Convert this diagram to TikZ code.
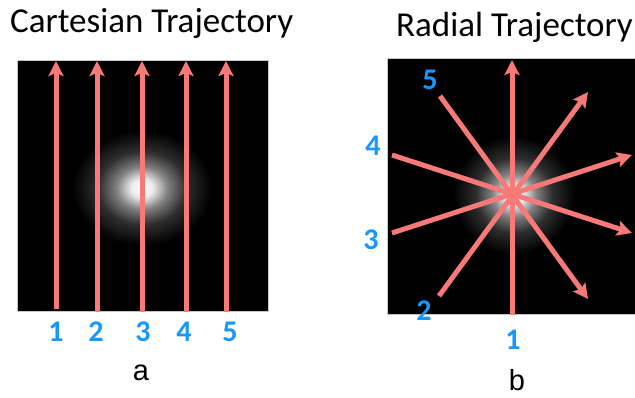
\documentclass[tikz,border=0pt]{standalone}
\usepackage{fontspec}
\setmainfont{Carlito}
\newfontfamily\arialfont{Liberation Sans}
\usepackage{xcolor}
\usetikzlibrary{arrows.meta,positioning}
\definecolor{trajred}{RGB}{248,122,120}
\definecolor{labelblue}{RGB}{22,152,255}
\pgfdeclareradialshading{signalblob}{\pgfpoint{0bp}{0bp}}{%
  color(0bp)=(white); color(3bp)=(white!92!black); color(7bp)=(white!50!black);
  color(12bp)=(white!18!black); color(19bp)=(black); color(50bp)=(black)}
\tikzset{
  kspace/.style={
    fill=black,
    draw=gray!45,
    line width=1pt
  },
  signal/.style={shading=signalblob},
  trajarrow/.style={-{Stealth[length=15pt, width=15pt, inset=3pt]}, line width=5pt, draw=trajred},
  numlabel/.style={font=\fontsize{30}{30}\selectfont\bfseries, text=labelblue, inner sep=0pt},
  titlelabel/.style={font=\fontsize{35}{35}\selectfont, anchor=base west, inner sep=0pt},
  sublabel/.style={font=\arialfont\fontsize{29}{29}\selectfont, anchor=base, inner sep=0pt}
}

\begin{document}
\begin{tikzpicture}[x=1pt, y=-1pt]
  \useasboundingbox (0,0) rectangle (635,398);

  % titles
  \node[titlelabel] (carttitle) at (10,33) {Cartesian Trajectory};
  \node[titlelabel] (radtitle) at (396,37) {Radial Trajectory};

  % k-space images
  \path[kspace] (17,61) rectangle (268,312);
  \shade[signal] (142,188) ellipse (92pt and 76pt);
  \draw[gray!45, line width=1pt] (17,61) rectangle (268,312);
  \path[kspace] (387,59) rectangle (645,315);
  \shade[signal] (514,195) ellipse (80pt and 78pt);

  % cartesian lines
  \coordinate (c1s) at (56,309);  \coordinate (c1e) at (56,61);
  \coordinate (c2s) at (97,312);  \coordinate (c2e) at (97,61);
  \coordinate (c3s) at (142,312); \coordinate (c3e) at (142,61);
  \coordinate (c4s) at (186,312); \coordinate (c4e) at (186,61);
  \coordinate (c5s) at (226,312); \coordinate (c5e) at (226,61);
  \draw[trajarrow] (c1s) -- (c1e);
  \draw[trajarrow] (c2s) -- (c2e);
  \draw[trajarrow] (c3s) -- (c3e);
  \draw[trajarrow] (c4s) -- (c4e);
  \draw[trajarrow] (c5s) -- (c5e);

  \node[numlabel] (c1) at (56,332) {1};
  \node[numlabel] (c2) at (96,332) {2};
  \node[numlabel] (c3) at (143,332) {3};
  \node[numlabel] (c4) at (184,332) {4};
  \node[numlabel] (c5) at (230,332) {5};

  % radial spokes
  \coordinate (centre) at (512,194);
  \coordinate (r1s) at (512,315); \coordinate (r1e) at (512,60);
  \coordinate (r2s) at (439,296); \coordinate (r2e) at (588,92);
  \coordinate (r3s) at (392,233); \coordinate (r3e) at (632,155);
  \coordinate (r4s) at (392,155); \coordinate (r4e) at (632,233);
  \coordinate (r5s) at (440,96);  \coordinate (r5e) at (588,299);
  \draw[trajarrow] (r1s) -- (r1e);
  \draw[trajarrow] (r2s) -- (r2e);
  \draw[trajarrow] (r3s) -- (r3e);
  \draw[trajarrow] (r4s) -- (r4e);
  \draw[trajarrow] (r5s) -- (r5e);

  \node[numlabel] (r1) at (513,340) {1};
  \node[numlabel] (r2) at (424,311) {2};
  \node[numlabel] (r3) at (371,240) {3};
  \node[numlabel] (r4) at (373,146) {4};
  \node[numlabel] (r5) at (430,80) {5};

  % panel letters
  \node[sublabel] (suba) at (141,380) {a};
  \node[sublabel] (subb) at (517,390) {b};
\end{tikzpicture}
\end{document}
